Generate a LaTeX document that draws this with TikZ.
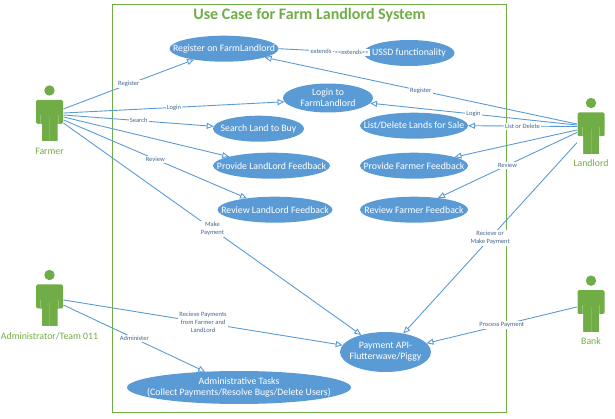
\documentclass[tikz,border=0pt]{standalone}
\usepackage{fontspec}
\setmainfont{Carlito}
\usetikzlibrary{arrows.meta,shapes.geometric}
\definecolor{ucblue}{HTML}{5B9BD5}
\definecolor{actgreen}{HTML}{70AD47}
\definecolor{lblblue}{HTML}{44668F}
\tikzset{
  x=1pt,y=-1pt,
  usecase/.style={ellipse,fill=ucblue,draw=none,inner sep=0pt,outer sep=0pt},
  uctext/.style={text=white,font=\fontsize{9.8}{11}\selectfont,align=center,inner sep=0pt},
  link/.style={draw=ucblue,line width=0.9pt,-{Triangle[open,length=7pt,width=6pt,fill=white]}},
  lbl/.style={fill=white,text=lblblue,font=\fontsize{6.5}{8}\selectfont,align=center,inner sep=1.2pt},
  actorbox/.style={rectangle,minimum width=28pt,minimum height=57pt,inner sep=0pt,outer sep=0pt},
  actorname/.style={text=actgreen,font=\fontsize{9.8}{11}\selectfont,inner sep=0pt}
}
\newcommand{\actorshape}[2]{% x, y of head centre
  \begin{scope}[shift={(#1,#2)}]
    \fill[actgreen] (0,0) circle[radius=5.2];
    \fill[actgreen,rounded corners=1.5pt] (-13.5,33.5) -- (-13.5,9.5) -- (13.5,9.5) -- (13.5,33.5) -- (-13.5,33.5) -- cycle;
    \fill[actgreen] (-8,30) rectangle (8,51);
    \fill[white] (-14,33.5) rectangle (-8,52) (8,33.5) rectangle (14,52);
    \draw[white!25!actgreen,line width=0.7pt] (-8.7,24.5) -- (-8.7,33.5) (8.7,24.5) -- (8.7,33.5);
    \draw[white!15!actgreen,line width=0.7pt] (0,26.5) -- (0,51);
  \end{scope}
}
\begin{document}
\begin{tikzpicture}
\useasboundingbox (0,0) rectangle (615,419);
\draw[actgreen,line width=1pt] (112.5,4.5) rectangle (506.7,412);
\node[text=actgreen,font=\bfseries\fontsize{16}{18}\selectfont,inner sep=0pt] (title) at (309.5,15.5) {Use Case for Farm Landlord System};

% use cases
\node[usecase,minimum width=109pt,minimum height=26pt,label={[uctext]center:Register on FarmLandlord}] (register) at (224,48.7) {};
\node[usecase,minimum width=91pt,minimum height=26pt,label={[uctext]center:USSD functionality}] (ussd) at (409,53) {};
\node[usecase,minimum width=90pt,minimum height=29pt,label={[uctext]center:Login to\\FarmLandlord}] (login) at (328,98) {};
\node[usecase,minimum width=91pt,minimum height=26pt,label={[uctext]center:Search Land to Buy}] (search) at (258.5,128.7) {};
\node[usecase,minimum width=117pt,minimum height=26pt,label={[uctext]center:Provide LandLord Feedback}] (provl) at (271.5,165.7) {};
\node[usecase,minimum width=115pt,minimum height=26pt,label={[uctext]center:Review LandLord Feedback}] (revl) at (275,209.7) {};
\node[usecase,minimum width=108pt,minimum height=26pt,label={[uctext]center:List/Delete Lands for Sale}] (list) at (414,125.7) {};
\node[usecase,minimum width=108pt,minimum height=26pt,label={[uctext]center:Provide Farmer Feedback}] (provf) at (414,165.7) {};
\node[usecase,minimum width=108pt,minimum height=26pt,label={[uctext]center:Review Farmer Feedback}] (revf) at (414,209.7) {};
\node[usecase,minimum width=91pt,minimum height=40pt,label={[uctext]center:Payment API-\\Flutterwave/Piggy}] (pay) at (385.5,352) {};
\node[usecase,minimum width=224pt,minimum height=33pt,label={[uctext]center:Administrative Tasks\\(Collect Payments/Resolve Bugs/Delete Users)}] (admintasks) at (239,387.5) {};

% actor anchors
\node[actorbox] (farmer) at (49.5,114) {};
\node[actorbox] (landlord) at (591,126.5) {};
\node[actorbox] (admin) at (49.5,298.5) {};
\node[actorbox] (bank) at (591,304.2) {};

% connectors
\draw[link] (farmer.20) -- node[lbl]{Register} (register.200);
\draw[link] (farmer.4) -- node[lbl]{Login} (login.185);
\draw[link] (farmer.-4) -- node[lbl]{Search} (search.177);
\draw[link] (farmer.-12) -- (provl.168);
\draw[link] (farmer.-23) -- node[lbl]{Review} (revl.158);
\draw[link] (farmer.-33) -- node[lbl]{Make\\Payment} (pay.145);
\draw[link] (landlord.170) -- node[lbl]{Register} (register.-12);
\draw[link] (landlord.174) -- node[lbl]{Login} (login.-7);
\draw[link] (landlord.west) -- node[lbl]{List or Delete} (list.east);
\draw[link] (landlord.194) -- (provf.12);
\draw[link] (landlord.203) -- node[lbl]{Review} (revf.26);
\draw[link] (landlord.229) -- node[lbl]{Recieve or\\Make Payment} (pay.46);
\draw[link] (bank.191) -- node[lbl]{Process Payment} (pay.12);
\draw[link] (admin.-6) -- node[lbl]{Recieve Payments\\from Farmer and\\LandLord} (pay.171);
\draw[link] (admin.-25) -- node[lbl]{Administer} (admintasks.155);
\draw[draw=ucblue,line width=0.9pt] (register.east) -- node[lbl,pos=0.5]{extends} node[lbl,pos=0.86]{<{}<extends>{}>} (ussd.west);

% actors
\actorshape{49.5}{90.5}
\actorshape{591}{103}
\actorshape{49.5}{275}
\actorshape{591}{280.7}
\node[actorname] (farmerlabel) at (49.5,151) {Farmer};
\node[actorname] (landlordlabel) at (591,163.5) {Landlord};
\node[actorname] (adminlabel) at (49.5,336) {Administrator/Team 011};
\node[actorname] (banklabel) at (591,341.5) {Bank};
\end{tikzpicture}
\end{document}
